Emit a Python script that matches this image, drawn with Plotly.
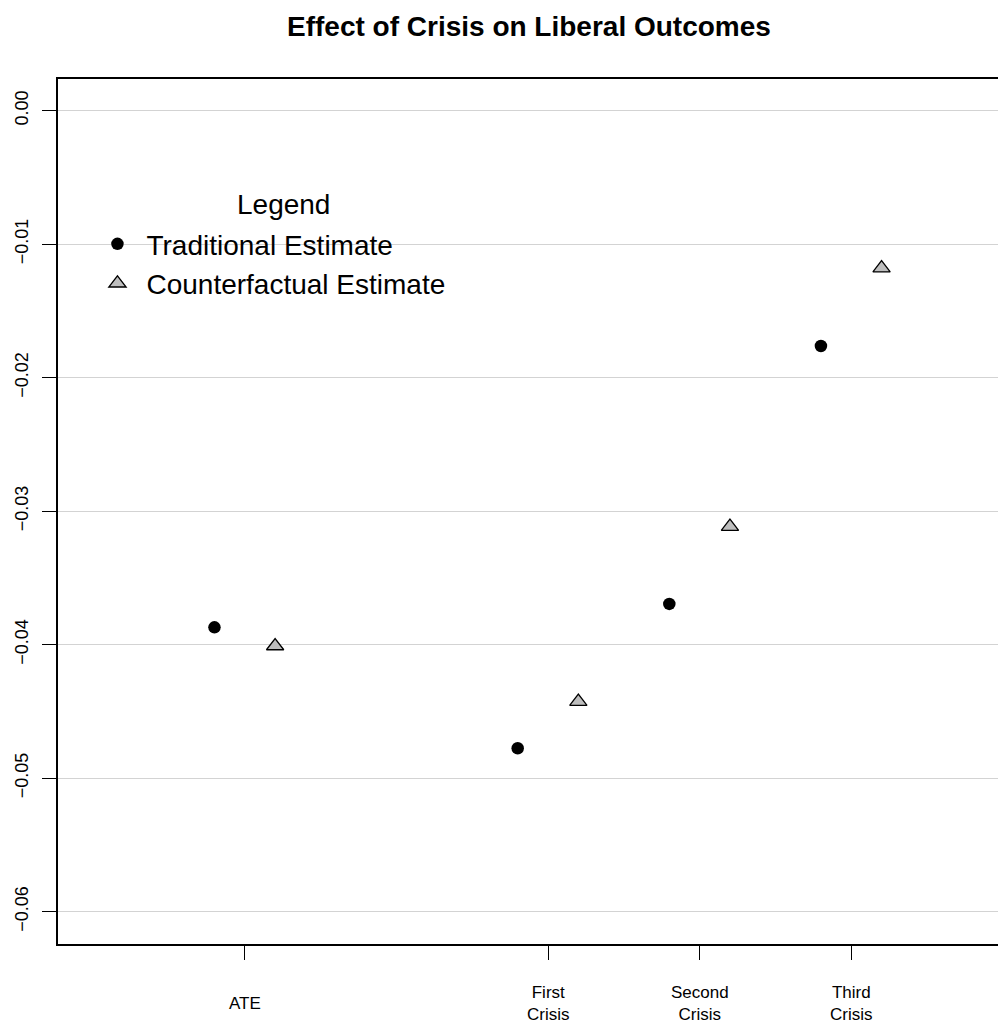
import plotly.graph_objects as go

# Estimates of the crisis effect on liberal outcomes
categories = ["ATE", "First<br>Crisis", "Second<br>Crisis", "Third<br>Crisis"]
cat_pos = [1, 3, 4, 5]
traditional = [-0.0387, -0.04776, -0.03695, -0.01763]
counterfactual = [-0.0401, -0.04427, -0.03116, -0.0118]
offset = 0.2

y_ticks = [0.0, -0.01, -0.02, -0.03, -0.04, -0.05, -0.06]
y_tick_text = ["0.00", "\u22120.01", "\u22120.02", "\u22120.03", "\u22120.04", "\u22120.05", "\u22120.06"]

FONT = "Liberation Sans, Arial, Helvetica, sans-serif"

fig = go.Figure()
fig.add_trace(go.Scatter(
    x=[p - offset for p in cat_pos], y=traditional, mode="markers",
    name="Traditional Estimate",
    marker=dict(symbol="circle", size=12.5, color="black"),
))
fig.add_trace(go.Scatter(
    x=[p + offset for p in cat_pos], y=counterfactual, mode="markers",
    name="Counterfactual Estimate",
    marker=dict(symbol="triangle-up", size=15, color="#bebebe",
                line=dict(color="black", width=1.3)),
))

# category labels under the x ticks
for pos, lab in zip(cat_pos, categories):
    fig.add_annotation(x=pos, y=0, xref="x", yref="paper", text=lab,
                       showarrow=False, yanchor="middle", yshift=-59,
                       font=dict(family=FONT, size=17, color="black"))

# heading of the legend box
fig.add_annotation(x=(283 - 58) / 940, y=(944 - 204) / 865, xref="paper", yref="paper",
                   text="Legend", showarrow=False, xanchor="center", yanchor="middle",
                   font=dict(family=FONT, size=28, color="black"))

fig.update_layout(
    width=998, height=1028,
    margin=dict(l=58, r=0, t=79, b=84),
    paper_bgcolor="white", plot_bgcolor="white",
    font=dict(family=FONT, color="black"),
    title=dict(text="<b>Effect of Crisis on Liberal Outcomes</b>",
               x=0.53, xanchor="center", y=1 - 26 / 1028, yanchor="middle",
               font=dict(family=FONT, size=28, color="black")),
    legend=dict(x=0.0324, y=0.838, xanchor="left", yanchor="top",
                bgcolor="rgba(0,0,0,0)", borderwidth=0, tracegroupgap=0,
                itemwidth=48,
                font=dict(family=FONT, size=28, color="black")),
    showlegend=True,
)

fig.update_xaxes(
    range=[-0.232, 5.968], tickvals=cat_pos, ticktext=[""] * len(cat_pos),
    showgrid=False, zeroline=False,
    showline=True, linecolor="black", linewidth=2, mirror=True,
    ticks="outside", ticklen=14, tickwidth=1, tickcolor="black",
)
fig.update_yaxes(
    range=[-0.06242, 0.00237], tickvals=y_ticks, ticktext=y_tick_text,
    tickangle=-90, tickfont=dict(family=FONT, size=18, color="black"),
    showgrid=True, gridcolor="#d3d3d3", gridwidth=1.2, zeroline=False,
    showline=True, linecolor="black", linewidth=2, mirror=False,
    ticks="outside", ticklen=14, tickwidth=1, tickcolor="black",
    ticklabelstandoff=7,
)

fig.write_html("out.html")
